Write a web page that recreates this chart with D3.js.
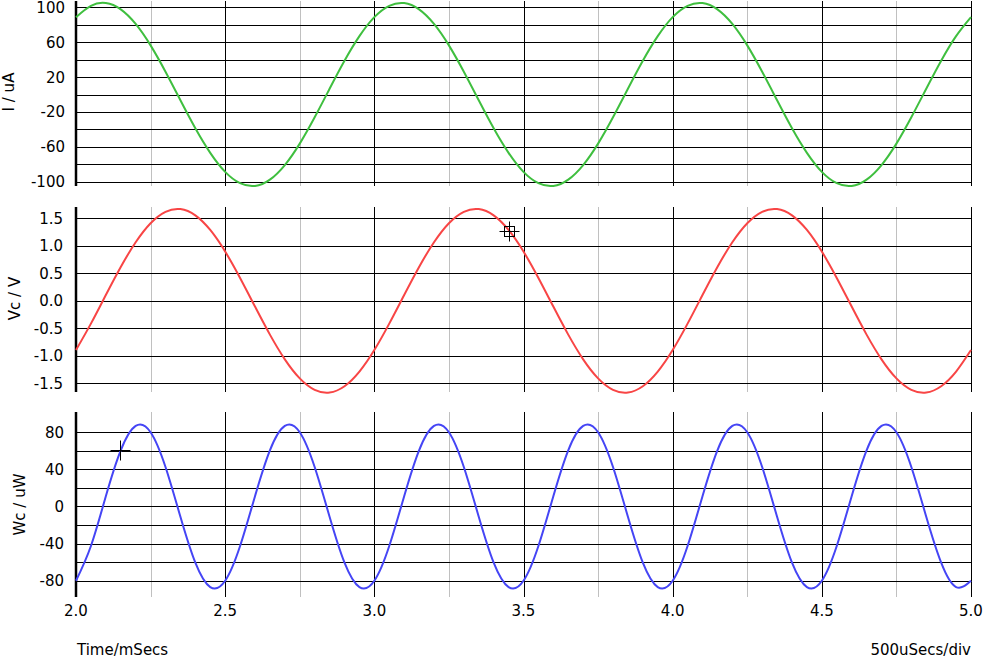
<!DOCTYPE html>
<html>
<head>
<meta charset="utf-8">
<script src="https://cdn.jsdelivr.net/npm/d3@7"></script>
<style>
  html, body { margin: 0; padding: 0; background: #fff; }
  svg { display: block; }
  text { font-family: "DejaVu Sans", Verdana, sans-serif; font-size: 15px; fill: #000; }
</style>
</head>
<body>
<svg id="chart" width="983" height="660"></svg>
<script>
// ---------------- data ----------------
const time = [
  2.00, 2.05, 2.10, 2.15, 2.20, 2.25, 2.30, 2.35, 2.40, 2.45,
  2.50, 2.55, 2.60, 2.65, 2.70, 2.75, 2.80, 2.85, 2.90, 2.95,
  3.00, 3.05, 3.10, 3.15, 3.20, 3.25, 3.30, 3.35, 3.40, 3.45,
  3.50, 3.55, 3.60, 3.65, 3.70, 3.75, 3.80, 3.85, 3.90, 3.95,
  4.00, 4.05, 4.10, 4.15, 4.20, 4.25, 4.30, 4.35, 4.40, 4.45,
  4.50, 4.55, 4.60, 4.65, 4.70, 4.75, 4.80, 4.85, 4.90, 4.95,
  5.00
];
// Current I / uA
const currentUA = [
  88.7, 101.7, 104.8, 97.6, 80.9, 56.3, 26.1, -6.6, -38.7, -66.9,
  -88.7, -101.7, -104.8, -97.6, -80.9, -56.3, -26.1, 6.6, 38.7, 66.9,
  88.7, 101.7, 104.8, 97.6, 80.9, 56.3, 26.1, -6.6, -38.7, -66.9,
  -88.7, -101.7, -104.8, -97.6, -80.9, -56.3, -26.1, 6.6, 38.7, 66.9,
  88.7, 101.7, 104.8, 97.6, 80.9, 56.3, 26.1, -6.6, -38.7, -66.9,
  -88.7, -101.7, -104.8, -97.6, -80.9, -56.3, -26.1, 6.6, 38.7, 66.9,
  88.7
];
// Capacitor voltage Vc / V
const voltageV = [
  -0.895, -0.415, 0.105, 0.615, 1.064, 1.410, 1.618, 1.667, 1.553, 1.287,
  0.895, 0.415, -0.105, -0.615, -1.064, -1.410, -1.618, -1.667, -1.553, -1.287,
  -0.895, -0.415, 0.105, 0.615, 1.064, 1.410, 1.618, 1.667, 1.553, 1.287,
  0.895, 0.415, -0.105, -0.615, -1.064, -1.410, -1.618, -1.667, -1.553, -1.287,
  -0.895, -0.415, 0.105, 0.615, 1.064, 1.410, 1.618, 1.667, 1.553, 1.287,
  0.895, 0.415, -0.105, -0.615, -1.064, -1.410, -1.618, -1.667, -1.553, -1.287,
  -0.895
];
// Power Wc / uW
const powerUW = [
  -80.1, -42.6, 11.1, 60.6, 86.9, 80.1, 42.6, -11.1, -60.6, -86.9,
  -80.1, -42.6, 11.1, 60.6, 86.9, 80.1, 42.6, -11.1, -60.6, -86.9,
  -80.1, -42.6, 11.1, 60.6, 86.9, 80.1, 42.6, -11.1, -60.6, -86.9,
  -80.1, -42.6, 11.1, 60.6, 86.9, 80.1, 42.6, -11.1, -60.6, -86.9,
  -80.1, -42.6, 11.1, 60.6, 86.9, 80.1, 42.6, -11.1, -60.6, -86.9,
  -80.1, -42.6, 11.1, 60.6, 86.9, 80.1, 42.6, -11.1, -60.6, -86.9,
  -80.1
];

// tick labels / grid values
const xTickLabels = [2.0, 2.5, 3.0, 3.5, 4.0, 4.5, 5.0];
const xMajorGrid = [2.5, 3.0, 3.5, 4.0, 4.5, 5.0];
const xMinorGrid = [2.25, 2.75, 3.25, 3.75, 4.25, 4.75];

const iGrid = [100, 80, 60, 40, 20, 0, -20, -40, -60, -80, -100];
const iLabels = [100, 60, 20, -20, -60, -100];
const vGrid = [1.5, 1.0, 0.5, 0.0, -0.5, -1.0, -1.5];
const vLabels = [1.5, 1.0, 0.5, 0.0, -0.5, -1.0, -1.5];
const wGrid = [80, 60, 40, 20, 0, -20, -40, -60, -80];
const wLabels = [80, 40, 0, -40, -80];

// cursors
const vCursor = { t: 3.452, v: 1.274 };
const wCursor = { t: 2.148, v: 60.5 };

// ---------------- layout ----------------
const svg = d3.select("#chart");
const X0 = 76, X1 = 971;
const x = d3.scaleLinear().domain([2.0, 5.0]).range([X0, X1]);
const px = v => Math.round(v) + 0.5;
const hyph = f => d => f(d).replace("\u2212", "-");

const panels = [
  { values: currentUA, color: "#3fbf3f", domain: [-104.9, 107.2], top: 1, bottom: 186,
    grid: iGrid, labels: iLabels, fmt: hyph(d3.format("d")), labelX: 65,
    title: "I / uA", titleX: 13.5, titleY: 92 },
  { values: voltageV, color: "#f84545", domain: [-1.658, 1.705], top: 207, bottom: 392,
    grid: vGrid, labels: vLabels, fmt: hyph(d3.format(".1f")), labelX: 63,
    title: "Vc / V", titleX: 19.5, titleY: 298.5 },
  { values: powerUW, color: "#4545f5", domain: [-97.6, 101.9], top: 412, bottom: 597,
    grid: wGrid, labels: wLabels, fmt: hyph(d3.format("d")), labelX: 64,
    title: "Wc / uW", titleX: 24.5, titleY: 504.5 }
];

panels.forEach((p, idx) => {
  const y = d3.scaleLinear().domain(p.domain).range([p.bottom, p.top]);
  p.y = y;
  const g = svg.append("g");

  // minor vertical grid (gray)
  g.selectAll(".vminor").data(xMinorGrid).enter().append("line")
    .attr("x1", d => px(x(d))).attr("x2", d => px(x(d)))
    .attr("y1", p.top).attr("y2", p.bottom)
    .attr("stroke", "#c0c0c0").attr("stroke-width", 1);

  // major vertical grid (black)
  g.selectAll(".vmajor").data(xMajorGrid).enter().append("line")
    .attr("x1", d => px(x(d))).attr("x2", d => px(x(d)))
    .attr("y1", p.top).attr("y2", p.bottom)
    .attr("stroke", "#000").attr("stroke-width", 1);

  // horizontal grid
  g.selectAll(".hgrid").data(p.grid).enter().append("line")
    .attr("x1", X0).attr("x2", X1 + 0.5)
    .attr("y1", d => px(y(d))).attr("y2", d => px(y(d)))
    .attr("stroke", "#000").attr("stroke-width", 1);

  // left axis line (thick)
  g.append("line")
    .attr("x1", X0).attr("x2", X0)
    .attr("y1", p.top).attr("y2", p.bottom)
    .attr("stroke", "#000").attr("stroke-width", 2.5);

  // y tick labels
  g.selectAll(".ylab").data(p.labels).enter().append("text")
    .attr("x", p.labelX).attr("y", d => y(d) + 5.5)
    .attr("text-anchor", "end")
    .text(d => p.fmt(d));

  // y title
  g.append("text")
    .attr("transform", `translate(${p.titleX},${p.titleY}) rotate(-90)`)
    .attr("text-anchor", "middle")
    .text(p.title);

  // curve
  const line = d3.line()
    .x((d, i) => x(time[i]))
    .y(d => y(d))
    .curve(d3.curveNatural);
  g.append("path")
    .datum(p.values)
    .attr("d", line)
    .attr("fill", "none")
    .attr("stroke", p.color)
    .attr("stroke-width", 2);
});

// cursors
function cross(cx, cy, withBox) {
  const g = svg.append("g").attr("stroke", "#000").attr("stroke-width", 1).attr("fill", "none");
  const X = px(cx), Y = px(cy);
  g.append("line").attr("x1", X - 10).attr("x2", X + 10).attr("y1", Y).attr("y2", Y);
  g.append("line").attr("x1", X).attr("x2", X).attr("y1", Y - 10).attr("y2", Y + 10);
  if (withBox) g.append("rect").attr("x", X - 5).attr("y", Y - 5).attr("width", 10).attr("height", 10);
}
cross(x(vCursor.t), panels[1].y(vCursor.v), true);
cross(x(wCursor.t), panels[2].y(wCursor.v), false);

// x tick labels
svg.selectAll(".xlab").data(xTickLabels).enter().append("text")
  .attr("x", d => x(d)).attr("y", 616)
  .attr("text-anchor", "middle")
  .text(d => d3.format(".1f")(d));

// bottom captions
svg.append("text").attr("x", 77).attr("y", 655).text("Time/mSecs");
svg.append("text").attr("x", 971).attr("y", 655).attr("text-anchor", "end").text("500uSecs/div");
</script>
</body>
</html>
